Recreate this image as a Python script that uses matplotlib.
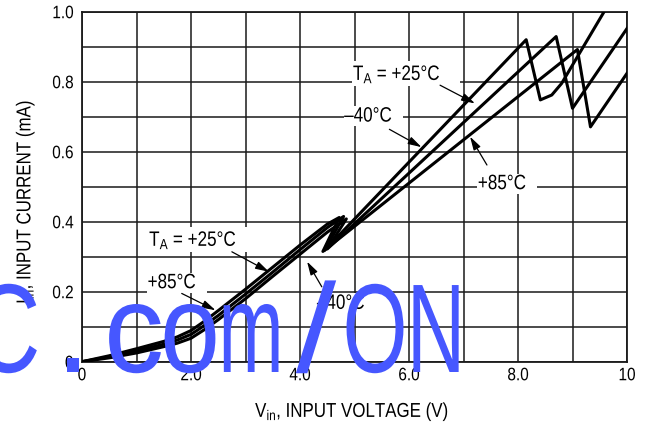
import matplotlib
matplotlib.use("Agg")
import matplotlib.pyplot as plt
from matplotlib.patheffects import AbstractPathEffect
from matplotlib.transforms import Affine2D

plt.rcParams["font.family"] = ["Liberation Sans", "DejaVu Sans"]
plt.rcParams["mathtext.fontset"] = "custom"
plt.rcParams["mathtext.rm"] = "Liberation Sans"
plt.rcParams["mathtext.it"] = "Liberation Sans"
plt.rcParams["mathtext.default"] = "regular"


class Squeeze(AbstractPathEffect):
    """Draw text narrower (no condensed face is installed)."""

    def __init__(self, sx=0.82, anchor="center", vertical=False):
        super().__init__()
        self.sx = sx
        self.anchor = anchor
        self.vertical = vertical

    def draw_path(self, renderer, gc, tpath, affine, rgbFace=None):
        ext = affine.transform_path(tpath).get_extents()
        cx = {"left": ext.x0, "right": ext.x1}.get(self.anchor, (ext.x0 + ext.x1) / 2)
        cy = (ext.y0 + ext.y1) / 2
        if self.vertical:
            sq = Affine2D().translate(-cx, -cy).scale(1, self.sx).translate(cx, cy)
        else:
            sq = Affine2D().translate(-cx, -cy).scale(self.sx, 1).translate(cx, cy)
        renderer.draw_path(gc, tpath, affine + sq, rgbFace)


# Curves (V, mA)
v_25 = [0, 0.5, 1.0, 1.5, 1.75, 2.0, 2.25, 2.5, 3.0, 3.5, 4.0, 4.5, 4.80, 4.45, 8.15, 8.41, 8.62, 8.80, 9.58]
i_25 = [0, 0.014, 0.031, 0.050, 0.062, 0.078, 0.104, 0.132, 0.193, 0.256, 0.320, 0.383, 0.415, 0.318, 0.920, 0.748, 0.762, 0.795, 1.0]

v_m40 = [0, 0.5, 1.0, 1.5, 1.75, 2.0, 2.25, 2.5, 3.0, 3.5, 4.0, 4.5, 4.85, 4.50, 8.70, 9.00, 10.0]
i_m40 = [0, 0.011, 0.025, 0.043, 0.053, 0.067, 0.092, 0.120, 0.180, 0.244, 0.307, 0.370, 0.408, 0.322, 0.929, 0.724, 0.952]

v_85 = [0, 0.5, 1.0, 1.5, 1.75, 2.0, 2.25, 2.5, 3.0, 3.5, 4.0, 4.5, 4.72, 4.42, 9.09, 9.33, 10.0]
i_85 = [0, 0.017, 0.037, 0.058, 0.071, 0.089, 0.116, 0.146, 0.207, 0.270, 0.333, 0.393, 0.412, 0.315, 0.892, 0.671, 0.824]

x_ticks = [0, 2, 4, 6, 8, 10]
x_labels = ["0", "2.0", "4.0", "6.0", "8.0", "10"]
y_ticks = [0, 0.2, 0.4, 0.6, 0.8, 1.0]
y_labels = ["0", "0.2", "0.4", "0.6", "0.8", "1.0"]

# label text, left/baseline position, arrow start, arrow tip
notes = [
    ("T$_A$ = +25°C", (4.97, 0.805), (6.57, 0.790), (7.21, 0.738)),
    ("\u201340°C", (4.81, 0.686), (5.64, 0.664), (6.23, 0.613)),
    ("+85°C", (7.26, 0.493), (7.43, 0.562), (7.12, 0.643)),
    ("T$_A$ = +25°C", (1.23, 0.331), (2.75, 0.314), (3.43, 0.257)),
    ("+85°C", (1.20, 0.210), (1.83, 0.195), (2.45, 0.147)),
    ("\u201340°C", (4.31, 0.151), (4.40, 0.214), (4.13, 0.286)),
]

# overlaid watermark characters, centre x (pixels) and squeeze
wm_chars = ["C", ".", "c", "o", "m", "/", "O", "N"]
wm_x = [6, 73, 134, 190, 251, 316, 375, 436]
wm_sx = [0.75, 1.0, 0.95, 0.85, 0.62, 1.15, 0.66, 0.64]

fig = plt.figure(figsize=(6.48, 4.28), dpi=100)
ax = fig.add_axes([82 / 648, 66.3 / 428, 545 / 648, 350 / 428])

for v, i in [(v_25, i_25), (v_m40, i_m40), (v_85, i_85)]:
    ax.plot(v, i, color="black", lw=2.2, solid_joinstyle="round", zorder=3)

ax.set_xlim(0, 10)
ax.set_ylim(0, 1.0)
ax.set_xticks(x_ticks)
ax.set_xticklabels(x_labels)
ax.set_xticks(range(1, 10, 2), minor=True)
ax.set_yticks(y_ticks)
ax.set_yticklabels(y_labels)
ax.set_yticks([0.1, 0.3, 0.5, 0.7, 0.9], minor=True)
ax.grid(True, which="both", color="#1a1a1a", lw=1.1)
ax.set_axisbelow(True)
ax.tick_params(which="both", length=0, labelsize=13)
ax.tick_params(axis="y", pad=6)
ax.tick_params(axis="x", pad=4)
for lbl in ax.get_xticklabels():
    lbl.set_path_effects([Squeeze(0.85, "center")])
for lbl in ax.get_yticklabels():
    lbl.set_path_effects([Squeeze(0.85, "right")])
for s in ax.spines.values():
    s.set_linewidth(1.3)
    s.set_color("#1a1a1a")

for txt, pos, start, tip in notes:
    t = ax.text(pos[0], pos[1], txt, fontsize=15, ha="left", va="baseline", zorder=5,
                bbox=dict(facecolor="white", edgecolor="none", pad=0.5))
    t.set_path_effects([Squeeze(0.82, "left")])
    ax.annotate("", xy=tip, xytext=start, zorder=6,
                arrowprops=dict(arrowstyle="-|>,head_length=0.45,head_width=0.13",
                                color="black", lw=0.9, mutation_scale=18,
                                shrinkA=0, shrinkB=0))

xl = fig.text(352 / 648, 11 / 428, "V$_{in}$, INPUT VOLTAGE (V)", fontsize=14.5,
              ha="center", va="baseline")
xl.set_path_effects([Squeeze(0.84, "center")])
yl = fig.text(25 / 648, 1 - 202 / 428, "I$_{in}$, INPUT CURRENT (mA)", fontsize=14.5,
              ha="center", va="center", rotation=90)
yl.set_path_effects([Squeeze(0.84, "center", vertical=True)])

for ch, x, sx in zip(wm_chars, wm_x, wm_sx):
    w = fig.text(x / 648, 56 / 428, ch, fontsize=91, color="#4657FF",
                 ha="center", va="baseline", zorder=10)
    w.set_path_effects([Squeeze(sx, "center")])

fig.savefig("out.png", dpi=100)
